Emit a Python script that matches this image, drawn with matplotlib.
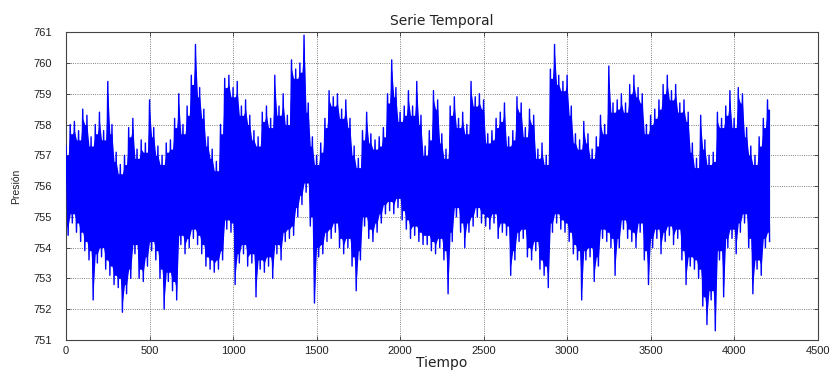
import numpy as np
import matplotlib
matplotlib.use("Agg")
import matplotlib.pyplot as plt

# Envelope of the pressure series, every 25 time units (t = 0 .. 4200)
step = 25
hi = [757.3, 758.0, 758.1, 757.8, 758.5, 758.3, 757.6, 758.0, 758.4, 757.8,
      759.4, 758.0, 757.1, 756.7, 757.0, 757.9, 758.2, 757.2, 757.5, 757.4,
      758.8, 757.9, 757.3, 757.0, 757.4, 757.5, 758.2, 759.0, 758.0, 758.6,
      759.6, 760.6, 759.2, 758.5, 757.6, 757.2, 756.8, 758.0, 759.5, 759.6,
      759.2, 759.4, 758.6, 758.8, 758.3, 757.8, 757.6, 758.4, 758.6, 758.2,
      759.6, 758.6, 759.0, 758.3, 760.1, 759.8, 760.0, 760.9, 758.7, 757.6,
      757.0, 757.4, 758.2, 759.1, 758.9, 759.0, 758.5, 758.8, 758.2, 757.3,
      756.9, 757.8, 758.4, 757.7, 757.5, 757.6, 757.9, 759.0, 760.1, 759.2,
      758.4, 758.6, 759.1, 758.6, 759.4, 758.3, 757.3, 757.8, 759.1, 758.8,
      757.7, 757.2, 758.6, 758.9, 758.2, 758.4, 758.0, 759.4, 758.9, 759.0,
      758.8, 757.7, 757.8, 758.2, 758.4, 758.7, 757.6, 757.8, 758.9, 758.7,
      757.9, 758.5, 758.3, 757.2, 757.4, 757.0, 759.8, 760.6, 759.6, 759.4,
      759.6, 758.6, 757.7, 757.5, 758.1, 757.7, 757.2, 757.6, 758.3, 758.0,
      759.9, 758.7, 758.8, 759.0, 758.7, 759.3, 759.6, 759.2, 759.0, 758.0,
      758.3, 758.5, 758.8, 759.3, 759.6, 759.1, 759.3, 758.7, 758.8, 758.4,
      757.4, 756.9, 758.3, 757.5, 757.0, 757.1, 758.4, 758.2, 758.6, 759.1,
      758.2, 759.2, 759.0, 757.9, 757.3, 757.0, 757.6, 758.2, 758.8]
lo = [754.4, 754.8, 754.5, 754.2, 753.9, 753.6, 752.3, 753.5, 753.7, 753.3,
      753.1, 752.8, 752.7, 751.9, 752.5, 753.0, 753.8, 753.0, 752.9, 753.4,
      753.9, 753.6, 753.0, 752.0, 752.9, 752.6, 752.3, 754.1, 753.8, 754.0,
      754.3, 754.1, 753.8, 753.4, 753.3, 753.2, 753.3, 753.6, 754.6, 754.5,
      752.8, 753.5, 753.8, 753.4, 753.5, 752.4, 753.3, 753.2, 753.4, 753.0,
      753.8, 753.6, 754.2, 754.3, 754.4, 755.0, 755.4, 755.8, 754.7, 752.2,
      753.7, 753.8, 754.2, 754.3, 754.5, 754.0, 753.8, 754.0, 753.4, 752.6,
      753.6, 754.7, 754.3, 754.2, 754.5, 754.8, 755.1, 755.2, 755.1, 755.3,
      754.9, 754.6, 754.3, 754.4, 754.2, 754.1, 754.1, 753.9, 753.8, 754.0,
      753.6, 752.5, 754.2, 755.0, 754.5, 754.0, 754.5, 754.7, 755.0, 754.8,
      754.7, 754.6, 754.8, 754.3, 754.5, 754.4, 753.1, 753.6, 754.2, 754.3,
      753.7, 753.6, 753.9, 753.3, 753.1, 752.7, 754.5, 754.8, 754.6, 754.5,
      754.2, 753.8, 753.6, 752.3, 753.6, 753.7, 752.9, 753.4, 754.3, 754.2,
      754.0, 753.1, 754.0, 754.6, 754.3, 754.2, 754.0, 754.5, 753.6, 752.8,
      754.0, 754.3, 753.8, 754.2, 754.4, 754.1, 754.3, 753.6, 752.8, 753.4,
      753.3, 753.0, 752.1, 751.5, 752.3, 751.3, 753.6, 752.4, 754.0, 754.3,
      753.8, 754.5, 754.8, 754.0, 752.5, 753.3, 753.1, 754.0, 754.2]

title = "Serie Temporal"
xlabel = "Tiempo"
ylabel = "Presión"
xticks = [0, 500, 1000, 1500, 2000, 2500, 3000, 3500, 4000, 4500]
yticks = [751, 752, 753, 754, 755, 756, 757, 758, 759, 760, 761]

hi_a = np.asarray(hi)
lo_a = np.asarray(lo)
n = len(hi_a)

# Series alternating upper and lower excursions (the spikes)
t = np.arange(2 * n) * (step / 2.0)
y = np.empty(2 * n)
y[0::2] = hi_a
y[1::2] = lo_a

# Dense core of the trace: between two neighbouring peaks it reaches almost the
# lower of them, between two neighbouring troughs almost the higher of them
notch = 0.3
next_hi = np.append(hi_a[1:], hi_a[-1])
prev_lo = np.insert(lo_a[:-1], 0, lo_a[0])
up = np.empty(2 * n)
up[0::2] = hi_a - notch
up[1::2] = np.minimum(hi_a, next_hi) - notch
dn = np.empty(2 * n)
dn[0::2] = np.maximum(lo_a, prev_lo) + notch
dn[1::2] = lo_a + notch

plt.rcParams['font.family'] = ['Liberation Sans', 'DejaVu Sans']
fig = plt.figure(figsize=(8.36, 3.74), dpi=100)
ax = fig.add_axes([0.079, 0.091, 0.899, 0.823])
ax.fill_between(t, dn, up, color='#0000ff', linewidth=0, zorder=2)
ax.plot(t, y, color='#0000ff', linewidth=1.0, antialiased=True, zorder=3)

ax.set_xlim(0, 4500)
ax.set_ylim(751, 761)
ax.set_xticks(xticks)
ax.set_yticks(yticks)
ax.tick_params(direction='in', top=True, right=True, labelsize=8, length=3,
               width=0.6, colors='#333333', labelcolor='#222222')
ax.tick_params(axis='x', pad=4)
ax.tick_params(axis='y', pad=10)
ax.grid(True, linestyle=':', color='#555555', linewidth=0.6, zorder=1)
ax.set_axisbelow(True)
for s in ax.spines.values():
    s.set_color('#444444')
    s.set_linewidth(0.8)

ax.set_title(title, fontsize=10, pad=5, color='#222222', family='DejaVu Sans')
ax.set_xlabel(xlabel, fontsize=10, labelpad=0, color='#222222', family='DejaVu Sans')
ax.set_ylabel(ylabel, fontsize=7.5, labelpad=9, color='#222222')

fig.savefig("out.png", dpi=100)
